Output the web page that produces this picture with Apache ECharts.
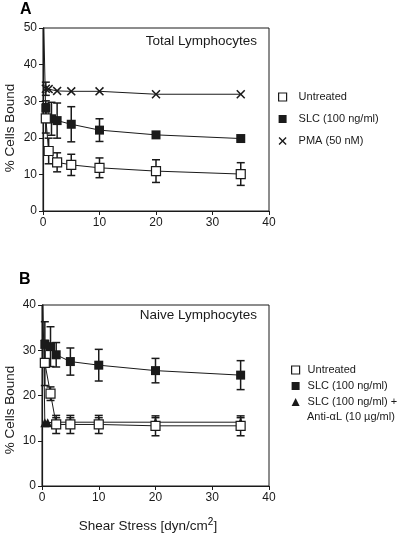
<!DOCTYPE html>
<html><head><meta charset="utf-8">
<script src="https://cdn.jsdelivr.net/npm/echarts/dist/echarts.min.js"></script>
<style>html,body{margin:0;padding:0;background:#fff}#c{width:400px;height:536px}</style>
</head><body><div id="c"></div>
<script>
// ---------- Data ----------
const xTicks = [0, 10, 20, 30, 40];
const yTicksA = [0, 10, 20, 30, 40, 50];
const yTicksB = [0, 10, 20, 30, 40];

// Panel A: Total Lymphocytes
const xA_untreated = [0, 0.5, 1, 2.5, 5, 10, 20, 35];
const A_untreated = [60, 25.3, 16.4, 13.3, 12.6, 11.8, 10.9, 10.1];
const A_untreated_err = [0, 4, 3.5, 2.6, 2.9, 2.7, 3.1, 3.1];

const xA_slc = [0.5, 1.5, 2.5, 5, 10, 20, 35];
const A_slc = [28.1, 25.2, 24.7, 23.7, 22.1, 20.8, 19.8];
const A_slc_err = [2, 4.5, 4.8, 4.8, 3.1, 0, 0];

const xA_pma = [0.5, 1, 2.5, 5, 10, 20, 35];
const A_pma = [33.4, 33.3, 32.8, 32.7, 32.7, 31.9, 31.9];
const A_pma_err = [1.8, 0, 0, 0, 0, 0, 0];

// Panel B: Naive Lymphocytes
const xB_untreated = [0.5, 1.5, 2.5, 5, 10, 20, 35];
const B_untreated = [27.2, 20.4, 13.6, 13.6, 13.6, 13.3, 13.3];
const B_untreated_err = [5, 1.5, 2, 2, 2, 2.2, 2.2];

const xB_slc = [0.5, 1.5, 2.5, 5, 10, 20, 35];
const B_slc = [31.3, 30.8, 29.0, 27.5, 26.7, 25.5, 24.5];
const B_slc_err = [5, 4.4, 2.7, 3, 3.5, 2.7, 3.2];

const xB_anti = [0, 0.5, 1, 2.5, 5, 10, 20, 35];
const B_anti = [55, 14.0, 14.0, 14.1, 14.1, 14.1, 14.1, 14.1];
const B_anti_err = [0, 0, 0, 1, 1, 1, 1, 1];

const namesA = ['Untreated', 'SLC (100 ng/ml)', 'PMA (50 nM)'];
const namesB = ['Untreated ', 'SLC (100 ng/ml) ', 'SLC (100 ng/ml) +'];

// ---------- Styles ----------
const FONT = '"Liberation Sans", Arial, Helvetica, sans-serif';
const INK = '#1a1a1a';
const X_PATH = 'path://M0,1.2L1.2,0L5,3.8L8.8,0L10,1.2L6.2,5L10,8.8L8.8,10L5,6.2L1.2,10L0,8.8L3.8,5Z';
const openSq = {color: '#fff', borderColor: INK, borderWidth: 1.2};
const fillSq = {color: INK, borderColor: INK, borderWidth: 0};

function lineSeries(name, gi, xs, ys, symbol, size, itemStyle) {
  return {
    type: 'line', name, xAxisIndex: gi, yAxisIndex: gi, symbol, symbolSize: size,
    showAllSymbol: true, z: 3, clip: true, animation: false, silent: true,
    lineStyle: {color: INK, width: 1}, itemStyle,
    emphasis: {disabled: true},
    data: xs.map((x, i) => x === 0 ? {value: [x, ys[i]], symbol: 'none'} : [x, ys[i]])
  };
}
function errSeries(gi, xs, ys, es) {
  return {
    type: 'custom', xAxisIndex: gi, yAxisIndex: gi, z: 2, silent: true, animation: false,
    data: xs.map((x, i) => [x, ys[i] - es[i], ys[i] + es[i], es[i]]).filter(d => d[3] > 0),
    encode: {x: 0, y: [1, 2]},
    renderItem(params, api) {
      const lo = api.coord([api.value(0), api.value(1)]);
      const hi = api.coord([api.value(0), api.value(2)]);
      const w = 4;
      const style = {stroke: INK, lineWidth: 1.5, fill: null};
      return {type: 'group', children: [
        {type: 'line', shape: {x1: lo[0], y1: lo[1], x2: hi[0], y2: hi[1]}, style},
        {type: 'line', shape: {x1: lo[0] - w, y1: lo[1], x2: lo[0] + w, y2: lo[1]}, style},
        {type: 'line', shape: {x1: hi[0] - w, y1: hi[1], x2: hi[0] + w, y2: hi[1]}, style}
      ]};
    }
  };
}
function xAxisDef(gi) {
  return {
    type: 'value', gridIndex: gi, min: xTicks[0], max: xTicks[xTicks.length - 1], interval: 10,
    axisLine: {show: true, onZero: false, lineStyle: {color: INK, width: 1.2}},
    axisTick: {show: true, length: 4, lineStyle: {color: INK, width: 1}},
    axisLabel: {color: INK, fontSize: 12, fontFamily: FONT, margin: 6},
    splitLine: {show: false}
  };
}
function yAxisDef(gi, ticks) {
  return {
    type: 'value', gridIndex: gi, min: ticks[0], max: ticks[ticks.length - 1], interval: 10,
    axisLine: {show: true, onZero: false, lineStyle: {color: INK, width: 1.2}},
    axisTick: {show: true, length: 4, lineStyle: {color: INK, width: 1}},
    axisLabel: {color: INK, fontSize: 12, fontFamily: FONT, margin: 6},
    splitLine: {show: false}
  };
}
const legendText = {fontSize: 11, color: INK, fontFamily: FONT, lineHeight: 14};

const option = {
  animation: false,
  backgroundColor: '#fff',
  grid: [
    {left: 43, top: 28, width: 226, height: 183, show: true, borderColor: INK, borderWidth: 1, backgroundColor: 'transparent'},
    {left: 42, top: 305, width: 227, height: 181, show: true, borderColor: INK, borderWidth: 1, backgroundColor: 'transparent'}
  ],
  xAxis: [xAxisDef(0), xAxisDef(1)],
  yAxis: [yAxisDef(0, yTicksA), yAxisDef(1, yTicksB)],
  legend: [
    {
      orient: 'vertical', left: 278, top: 90, padding: 0, itemWidth: 8, itemHeight: 8, itemGap: 8,
      selectedMode: false, textStyle: Object.assign({padding: [0, 0, 0, 7]}, legendText),
      data: [
        {name: namesA[0], icon: 'rect', itemStyle: openSq},
        {name: namesA[1], icon: 'rect', itemStyle: fillSq},
        {name: namesA[2], icon: X_PATH, itemStyle: {color: INK, borderWidth: 0}}
      ]
    },
    {
      orient: 'vertical', left: 291, top: 363, padding: 0, itemWidth: 8, itemHeight: 8, itemGap: 2,
      selectedMode: false, textStyle: Object.assign({padding: [0, 0, 0, 3]}, legendText),
      data: [
        {name: namesB[0], icon: 'rect', itemStyle: openSq},
        {name: namesB[1], icon: 'rect', itemStyle: fillSq},
        {name: namesB[2], icon: 'triangle', itemStyle: {color: INK, borderWidth: 0}}
      ]
    }
  ],
  graphic: [
    {type: 'text', left: 20, top: 2, style: {text: 'A', font: 'bold 16px ' + FONT, fill: '#000'}},
    {type: 'text', left: 19, top: 272, style: {text: 'B', font: 'bold 16px ' + FONT, fill: '#000'}},
    {type: 'text', right: 143, top: 34, style: {text: 'Total Lymphocytes', font: '13.5px ' + FONT, fill: INK}},
    {type: 'text', right: 143, top: 308, style: {text: 'Naive Lymphocytes', font: '13.5px ' + FONT, fill: INK}},
    {type: 'text', x: 10, y: 128, rotation: Math.PI / 2, style: {text: '% Cells Bound', font: '13.5px ' + FONT, fill: INK, align: 'center', verticalAlign: 'middle'}},
    {type: 'text', x: 10, y: 410, rotation: Math.PI / 2, style: {text: '% Cells Bound', font: '13.5px ' + FONT, fill: INK, align: 'center', verticalAlign: 'middle'}},
    {type: 'text', x: 148, y: 526, style: {
      text: '{a|Shear Stress [dyn/cm}{s|2}{a|]}', align: 'center', verticalAlign: 'middle',
      rich: {a: {font: '13.5px ' + FONT, fill: INK, color: INK}, s: {font: '10px ' + FONT, color: INK, verticalAlign: 'top', padding: [0, 0, 8, 0]}}
    }},
    {type: 'text', left: 307, top: 411, style: {text: 'Anti-\u03b1L (10 \u00b5g/ml)', font: '11px ' + FONT, fill: INK}}
  ],
  series: [
    errSeries(0, xA_untreated, A_untreated, A_untreated_err),
    errSeries(0, xA_slc, A_slc, A_slc_err),
    errSeries(0, xA_pma, A_pma, A_pma_err),
    lineSeries(namesA[2], 0, xA_pma, A_pma, X_PATH, 9, {color: INK, borderWidth: 0}),
    lineSeries(namesA[1], 0, xA_slc, A_slc, 'rect', 9, fillSq),
    lineSeries(namesA[0], 0, xA_untreated, A_untreated, 'rect', 9, openSq),

    errSeries(1, xB_anti, B_anti, B_anti_err),
    errSeries(1, xB_slc, B_slc, B_slc_err),
    errSeries(1, xB_untreated, B_untreated, B_untreated_err),
    lineSeries(namesB[2], 1, xB_anti, B_anti, 'triangle', 9, {color: INK, borderWidth: 0}),
    lineSeries(namesB[1], 1, xB_slc, B_slc, 'rect', 9, fillSq),
    lineSeries(namesB[0], 1, xB_untreated, B_untreated, 'rect', 9, openSq)
  ]
};
const chart = echarts.init(document.getElementById('c'), null, {renderer: 'canvas'});
chart.setOption(option);
</script></body></html>
